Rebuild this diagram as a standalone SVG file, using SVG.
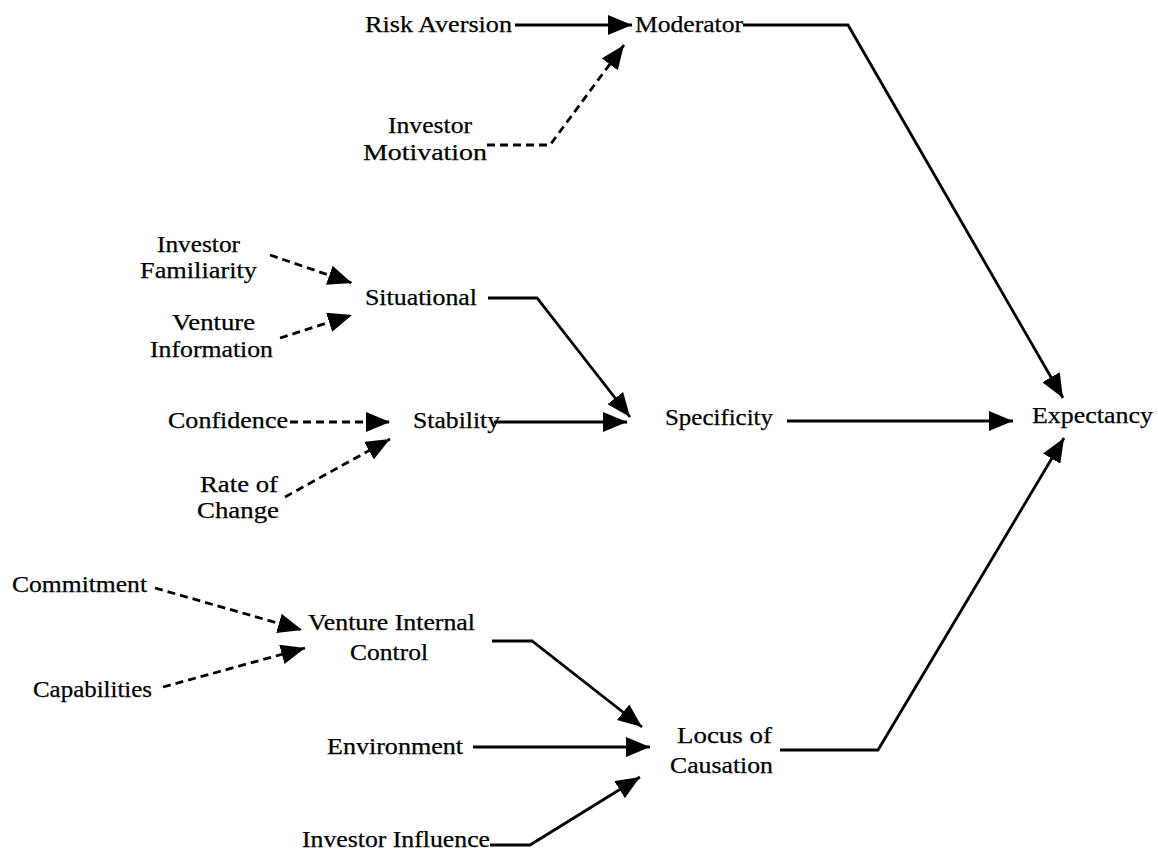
<svg xmlns="http://www.w3.org/2000/svg" width="1158" height="851" viewBox="0 0 1158 851">
  <defs>
    <marker id="head" viewBox="0 0 24 20" markerWidth="24" markerHeight="20" refX="24" refY="10" orient="auto" markerUnits="userSpaceOnUse">
      <path d="M0,0 L24,10 L0,20 z" fill="#000"/>
    </marker>
    <style>
      text { font-family: "Liberation Serif", "Times New Roman", serif; font-size: 23px; fill: #000; stroke: #000; stroke-width: 0.25; }
      .solid { fill: none; stroke: #000; stroke-width: 2.8; stroke-linejoin: miter; marker-end: url(#head); }
      .dash { fill: none; stroke: #000; stroke-width: 2.8; stroke-dasharray: 8 5; marker-end: url(#head); }
    </style>
  </defs>
  <rect width="1158" height="851" fill="#fff"/>

  <!-- connectors -->
  <g id="connectors">
    <path class="solid" d="M515,25 H632"/>
    <path class="dash" d="M487,145 H550 L624,45"/>
    <path class="solid" d="M743,25 H848 L1063,398"/>
    <path class="dash" d="M270,255 L352,283"/>
    <path class="dash" d="M280,338 L352,315"/>
    <path class="solid" d="M488,298 H537 L630,417"/>
    <path class="dash" d="M290,422 H390"/>
    <path class="dash" d="M285,497 L390,439"/>
    <path class="solid" d="M494,422 H627"/>
    <path class="solid" d="M787,421 H1013"/>
    <path class="solid" d="M780,750 H878 L1064,438"/>
    <path class="dash" d="M155,588 L302,630"/>
    <path class="dash" d="M163,687 L305,648"/>
    <path class="solid" d="M492,641 H532 L642,727"/>
    <path class="solid" d="M473,747 H650"/>
    <path class="solid" d="M490,845 H530 L640,777"/>
  </g>

  <!-- nodes -->
  <g id="risk-aversion"><text x="365" y="32" textLength="147" lengthAdjust="spacingAndGlyphs">Risk Aversion</text></g>
  <g id="moderator"><text x="635" y="32" textLength="108" lengthAdjust="spacingAndGlyphs">Moderator</text></g>
  <g id="investor-motivation">
    <text x="388" y="133" textLength="84" lengthAdjust="spacingAndGlyphs">Investor</text>
    <text x="363" y="160" textLength="124" lengthAdjust="spacingAndGlyphs">Motivation</text>
  </g>
  <g id="investor-familiarity">
    <text x="157" y="252" textLength="83" lengthAdjust="spacingAndGlyphs">Investor</text>
    <text x="140" y="278" textLength="117" lengthAdjust="spacingAndGlyphs">Familiarity</text>
  </g>
  <g id="venture-information">
    <text x="172" y="330" textLength="83" lengthAdjust="spacingAndGlyphs">Venture</text>
    <text x="150" y="357" textLength="123" lengthAdjust="spacingAndGlyphs">Information</text>
  </g>
  <g id="situational"><text x="365" y="305" textLength="112" lengthAdjust="spacingAndGlyphs">Situational</text></g>
  <g id="confidence"><text x="168" y="428" textLength="120" lengthAdjust="spacingAndGlyphs">Confidence</text></g>
  <g id="stability"><text x="413" y="428" textLength="87" lengthAdjust="spacingAndGlyphs">Stability</text></g>
  <g id="rate-of-change">
    <text x="200" y="492" textLength="78" lengthAdjust="spacingAndGlyphs">Rate of</text>
    <text x="197" y="518" textLength="82" lengthAdjust="spacingAndGlyphs">Change</text>
  </g>
  <g id="specificity"><text x="665" y="425" textLength="108" lengthAdjust="spacingAndGlyphs">Specificity</text></g>
  <g id="expectancy"><text x="1032" y="423" textLength="121" lengthAdjust="spacingAndGlyphs">Expectancy</text></g>
  <g id="commitment"><text x="12" y="592" textLength="135" lengthAdjust="spacingAndGlyphs">Commitment</text></g>
  <g id="capabilities"><text x="33" y="697" textLength="119" lengthAdjust="spacingAndGlyphs">Capabilities</text></g>
  <g id="venture-internal-control">
    <text x="308" y="630" textLength="167" lengthAdjust="spacingAndGlyphs">Venture Internal</text>
    <text x="350" y="660" textLength="78" lengthAdjust="spacingAndGlyphs">Control</text>
  </g>
  <g id="environment"><text x="327" y="754" textLength="136" lengthAdjust="spacingAndGlyphs">Environment</text></g>
  <g id="locus-of-causation">
    <text x="677" y="743" textLength="95" lengthAdjust="spacingAndGlyphs">Locus of</text>
    <text x="670" y="773" textLength="103" lengthAdjust="spacingAndGlyphs">Causation</text>
  </g>
  <g id="investor-influence"><text x="302" y="847" textLength="188" lengthAdjust="spacingAndGlyphs">Investor Influence</text></g>
</svg>
